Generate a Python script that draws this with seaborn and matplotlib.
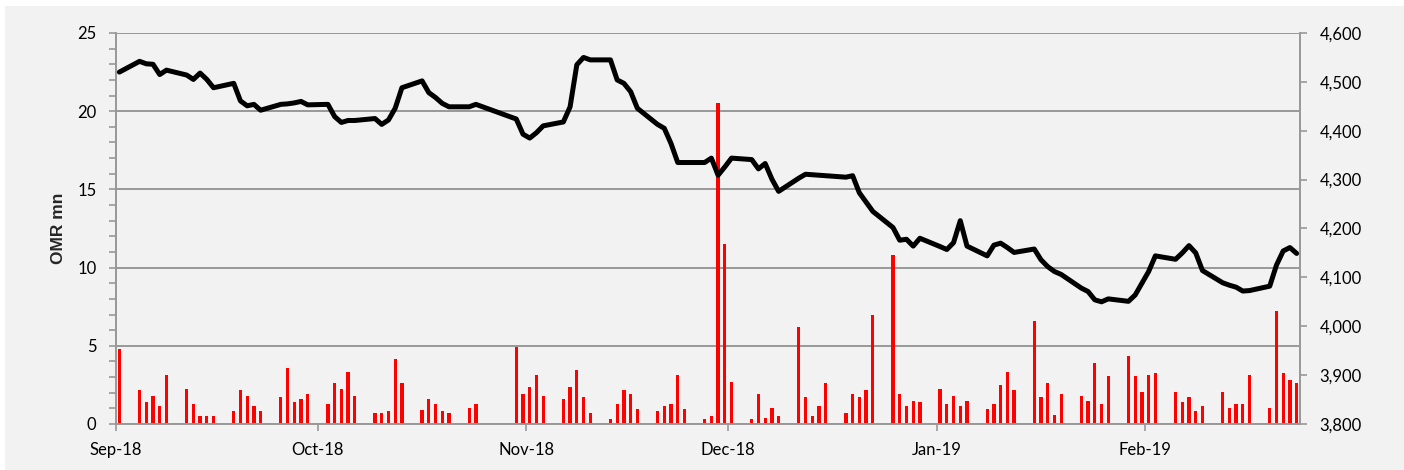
import numpy as np
import pandas as pd
import matplotlib
matplotlib.use("Agg")
import matplotlib.pyplot as plt
import matplotlib.dates as mdates
from matplotlib.ticker import MultipleLocator, FixedLocator, FuncFormatter
from matplotlib.patches import Rectangle
import seaborn as sns

# trading days shown on the chart (one row per week)
dates = [
    "2018-09-01",
    "2018-09-04", "2018-09-05", "2018-09-06", "2018-09-07", "2018-09-08",
    "2018-09-11", "2018-09-12", "2018-09-13", "2018-09-14", "2018-09-15",
    "2018-09-18", "2018-09-19", "2018-09-20", "2018-09-21", "2018-09-22",
    "2018-09-25", "2018-09-26", "2018-09-27", "2018-09-28", "2018-09-29",
    "2018-10-02", "2018-10-03", "2018-10-04", "2018-10-05", "2018-10-06",
    "2018-10-09", "2018-10-10", "2018-10-11", "2018-10-12", "2018-10-13",
    "2018-10-16", "2018-10-17", "2018-10-18", "2018-10-19", "2018-10-20",
    "2018-10-23", "2018-10-24",
    "2018-10-30", "2018-10-31", "2018-11-01", "2018-11-02", "2018-11-03",
    "2018-11-06", "2018-11-07", "2018-11-08", "2018-11-09", "2018-11-10",
    "2018-11-13", "2018-11-14", "2018-11-15", "2018-11-16", "2018-11-17",
    "2018-11-20", "2018-11-21", "2018-11-22", "2018-11-23", "2018-11-24",
    "2018-11-27", "2018-11-28", "2018-11-29", "2018-11-30", "2018-12-01",
    "2018-12-04", "2018-12-05", "2018-12-06", "2018-12-07", "2018-12-08",
    "2018-12-11", "2018-12-12", "2018-12-13", "2018-12-14", "2018-12-15",
    "2018-12-18", "2018-12-19", "2018-12-20", "2018-12-21", "2018-12-22",
    "2018-12-25", "2018-12-26", "2018-12-27", "2018-12-28", "2018-12-29",
    "2019-01-01", "2019-01-02", "2019-01-03", "2019-01-04", "2019-01-05",
    "2019-01-08", "2019-01-09", "2019-01-10", "2019-01-11", "2019-01-12",
    "2019-01-15", "2019-01-16", "2019-01-17", "2019-01-18", "2019-01-19",
    "2019-01-22", "2019-01-23", "2019-01-24", "2019-01-25", "2019-01-26",
    "2019-01-29", "2019-01-30", "2019-01-31", "2019-02-01", "2019-02-02",
    "2019-02-05", "2019-02-06", "2019-02-07", "2019-02-08", "2019-02-09",
    "2019-02-12", "2019-02-13", "2019-02-14", "2019-02-15", "2019-02-16",
    "2019-02-19", "2019-02-20", "2019-02-21", "2019-02-22", "2019-02-23",
]

# traded value, OMR mn (left axis, red bars)
volume = [
    4.8,
    2.15, 1.4, 1.8, 1.15, 3.15,
    2.25, 1.25, 0.5, 0.5, 0.5,
    0.8, 2.15, 1.8, 1.15, 0.8,
    1.7, 3.6, 1.4, 1.6, 1.95,
    1.25, 2.6, 2.25, 3.35, 1.8,
    0.7, 0.7, 0.8, 4.15, 2.6,
    0.9, 1.6, 1.25, 0.8, 0.7,
    1.05, 1.25,
    4.9, 1.95, 2.35, 3.15, 1.8,
    1.6, 2.35, 3.45, 1.7, 0.7,
    0.3, 1.25, 2.15, 1.95, 0.95,
    0.85, 1.15, 1.25, 3.15, 0.95,
    0.35, 0.5, 20.5, 11.5, 2.7,
    0.35, 1.95, 0.4, 1.05, 0.5,
    6.2, 1.7, 0.5, 1.15, 2.6,
    0.7, 1.95, 1.7, 2.15, 7.0,
    10.8, 1.95, 1.15, 1.5, 1.4,
    2.25, 1.25, 1.8, 1.15, 1.5,
    0.95, 1.25, 2.5, 3.35, 2.15,
    6.6, 1.7, 2.6, 0.6, 1.95,
    1.8, 1.5, 3.9, 1.25, 3.05,
    4.35, 3.05, 2.05, 3.15, 3.25,
    2.05, 1.4, 1.7, 0.85, 1.15,
    2.05, 1.05, 1.25, 1.25, 3.15,
    1.05, 7.2, 3.25, 2.8, 2.6,
]

# index level (right axis, black line)
index_level = [
    4520,
    4542, 4537, 4536, 4515, 4524,
    4514, 4505, 4518, 4505, 4488,
    4497, 4461, 4451, 4454, 4442,
    4454, 4455, 4457, 4460, 4453,
    4454, 4429, 4417, 4421, 4421,
    4425, 4413, 4422, 4446, 4488,
    4502, 4478, 4468, 4456, 4449,
    4449, 4454,
    4424, 4393, 4385, 4396, 4410,
    4418, 4449, 4535, 4550, 4545,
    4545, 4504, 4497, 4480, 4446,
    4413, 4405, 4374, 4335, 4335,
    4335, 4344, 4309, 4326, 4344,
    4341, 4322, 4333, 4301, 4276,
    4303, 4311, 4310, 4309, 4308,
    4305, 4308, 4273, 4254, 4235,
    4202, 4176, 4178, 4164, 4180,
    4163, 4157, 4171, 4216, 4164,
    4144, 4166, 4170, 4161, 4151,
    4158, 4136, 4122, 4112, 4106,
    4078, 4071, 4054, 4050, 4056,
    4051, 4064, 4088, 4112, 4144,
    4137, 4150, 4165, 4150, 4114,
    4089, 4084, 4080, 4072, 4073,
    4082, 4125, 4154, 4161, 4149,
]

left_ticks = [0, 5, 10, 15, 20, 25]
right_ticks = [3800, 3900, 4000, 4100, 4200, 4300, 4400, 4500, 4600]
x_start, x_end = "2018-09-01", "2019-02-24"

sns.set_theme(style="white")
plt.rcParams["font.family"] = ["Lato", "DejaVu Sans"]

BG = "#f2f2f2"
GRID = "#989898"

df = pd.DataFrame({"date": pd.to_datetime(dates), "volume": volume, "index": index_level})
# each day occupies a slot; marks sit in the middle of it
df["x"] = mdates.date2num(df["date"]) + 0.5

fig = plt.figure(figsize=(14.04, 4.70), dpi=100, facecolor=BG)
fig.patches.append(Rectangle((0, 1 - 6 / 470), 1, 6 / 470, transform=fig.transFigure,
                             facecolor="white", edgecolor="none", zorder=-1))
fig.patches.append(Rectangle((0, 0), 5 / 1404, 1, transform=fig.transFigure,
                             facecolor="white", edgecolor="none", zorder=-1))

ax = fig.add_axes([116 / 1404, 1 - 424 / 470, (1300 - 116) / 1404, (424 - 33) / 470])
ax.set_facecolor(BG)

sns.barplot(data=df, x="x", y="volume", native_scale=True, width=0.5,
            color="#ff0000", saturation=1, errorbar=None, linewidth=0, ax=ax)

ax2 = ax.twinx()
ax2.set_facecolor("none")
sns.lineplot(data=df, x="x", y="index", color="black", linewidth=3.6, ax=ax2)

# left axis
ax.set_ylim(0, 25)
ax.yaxis.set_major_locator(FixedLocator(left_ticks))
ax.yaxis.set_minor_locator(MultipleLocator(1))
ax.set_ylabel("OMR mn", fontsize=12.5, fontweight="bold", labelpad=8,
              family=["Liberation Sans", "DejaVu Sans"])
ax.set_xlabel("")
ax.grid(axis="y", which="major", color=GRID, linewidth=1.4)
ax.set_axisbelow(True)

# right axis
ax2.set_ylim(3800, 4600)
ax2.set_yticks(right_ticks)
ax2.yaxis.set_major_formatter(FuncFormatter(lambda v, p: f"{int(v):,}"))
ax2.set_ylabel("")
ax2.set_xlabel("")

# date axis
ax.set_xlim(mdates.datestr2num(x_start), mdates.datestr2num(x_end))
ax.xaxis.set_major_locator(mdates.MonthLocator())
ax.xaxis.set_major_formatter(mdates.DateFormatter("%b-%y"))
ax.xaxis.set_minor_locator(FixedLocator([]))

for a in (ax, ax2):
    for side in ("top", "left", "right", "bottom"):
        a.spines[side].set_visible(False)
ax.spines["left"].set_visible(True)
ax.spines["bottom"].set_visible(True)
ax2.spines["right"].set_visible(True)
for sp in (ax.spines["left"], ax.spines["bottom"], ax2.spines["right"]):
    sp.set_color(GRID)
    sp.set_linewidth(1.4)

ax.tick_params(axis="y", which="major", left=True, length=5, width=1.2, color=GRID,
               labelsize=12, pad=9, labelcolor="black")
ax.tick_params(axis="y", which="minor", left=True, length=5, width=1.2, color=GRID)
ax.tick_params(axis="x", which="major", bottom=True, length=5, width=1.2, color=GRID,
               labelsize=12, pad=8, labelcolor="black")
ax2.tick_params(axis="y", which="major", right=True, length=5, width=1.2, color=GRID,
                labelsize=12, pad=9, labelcolor="black")

fig.savefig("out.png", dpi=100, facecolor=BG)
